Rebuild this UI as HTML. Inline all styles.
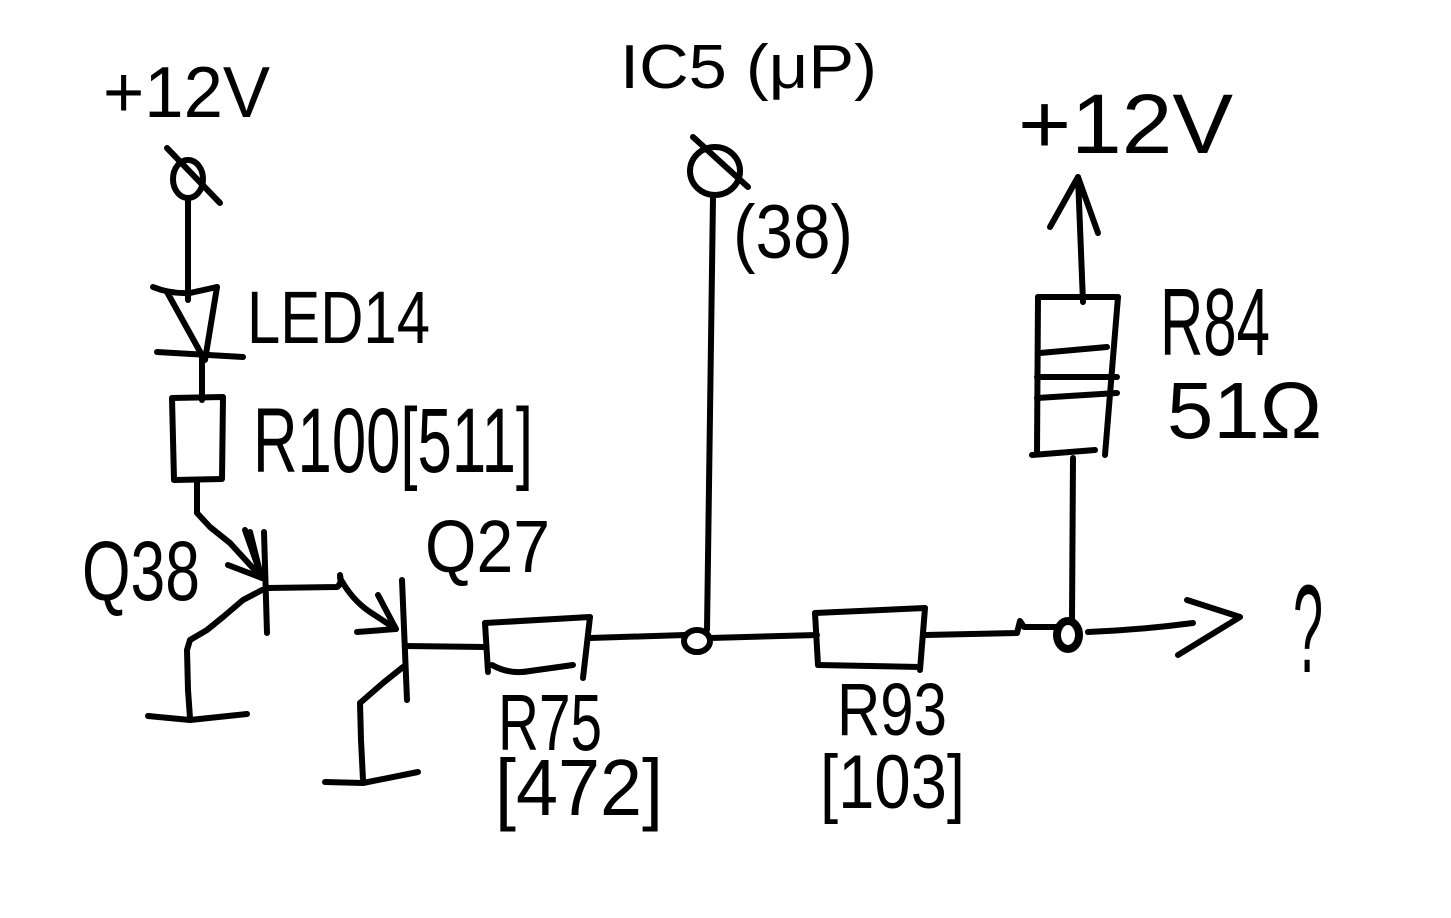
<!DOCTYPE html>
<html>
<head>
<meta charset="utf-8">
<style>
  html, body { margin: 0; padding: 0; background: #ffffff; }
  body { width: 1451px; height: 918px; overflow: hidden; }
  svg { display: block; }
  text { font-family: "Liberation Sans", "DejaVu Sans", sans-serif; fill: #000; }
</style>
</head>
<body>
<svg width="1451" height="918" viewBox="0 0 1451 918" xmlns="http://www.w3.org/2000/svg">
  <rect x="0" y="0" width="1451" height="918" fill="#ffffff"/>

  <g fill="none" stroke="#000" stroke-width="6" stroke-linecap="round" stroke-linejoin="round">
    <!-- Left +12V terminal -->
    <ellipse cx="188" cy="179" rx="15" ry="19"/>
    <path d="M167,148 L220,203"/>
    <path d="M188,198 L188,300"/>

    <!-- LED14 -->
    <path d="M153,287 Q170,294 190,293 L217,287"/>
    <path d="M167,292 L203,357"/>
    <path d="M217,287 L205,360"/>
    <path d="M157,352 L243,357"/>
    <path d="M202,357 L202,400"/>

    <!-- R100 -->
    <path d="M172,398 L223,397 L222,479 L174,480 Z"/>
    <path d="M197,480 L197,513 L210,527 L230,543 L262,578"/>
    <!-- Q38 emitter arrow -->
    <path d="M228,565 L262,578 L245,530"/>
    <path d="M250,532 L260,572"/>

    <!-- Q38 bar -->
    <path d="M264,532 L267,633"/>
    <!-- Q38 collector to ground -->
    <path d="M262,590 L243,600 L223,617 L207,630 L190,640 L187,650 L188,690 L190,718"/>
    <path d="M148,716 L190,720 L247,714"/>

    <!-- Q38 -> Q27 -->
    <path d="M267,588 L337,587 Q342,584 340,575"/>
    <path d="M340,578 Q352,600 370,612 L396,629"/>
    <path d="M357,632 L396,629 L378,595"/>

    <!-- Q27 bar -->
    <path d="M402,580 L407,700"/>
    <!-- Q27 collector to ground -->
    <path d="M403,667 L383,683 L360,703 L361,740 L363,780"/>
    <path d="M325,782 L363,783 L418,772"/>

    <!-- Q27 to R75 -->
    <path d="M405,646 L485,647"/>

    <!-- R75 -->
    <path d="M485,623 L590,617"/>
    <path d="M485,623 L488,672"/>
    <path d="M590,617 L583,678"/>
    <path d="M492,665 Q510,675 530,671 L573,665"/>
    <path d="M590,638 L685,635"/>

    <!-- Node 1 -->
    <ellipse cx="697" cy="641" rx="13" ry="11"/>
    <path d="M710,638 L817,635"/>

    <!-- IC5 pin -->
    <ellipse cx="715" cy="171" rx="25" ry="24"/>
    <path d="M693,137 L748,187"/>
    <path d="M713,197 L707,630"/>

    <!-- R93 -->
    <path d="M815,613 L925,608"/>
    <path d="M815,613 L818,665"/>
    <path d="M818,665 L920,667"/>
    <path d="M925,608 L920,670"/>
    <path d="M925,635 L1017,633 L1020,621 L1024,627 L1056,627"/>

    <!-- Node 2 -->
    <ellipse cx="1068" cy="635" rx="11" ry="14" stroke-width="8"/>
    <path d="M1072,620 L1073,458"/>

    <!-- R84 -->
    <path d="M1038,297 L1118,297"/>
    <path d="M1038,297 L1037,452"/>
    <path d="M1118,297 L1105,455"/>
    <path d="M1040,353 L1107,347"/>
    <path d="M1037,377 L1117,377"/>
    <path d="M1037,398 L1117,393"/>
    <path d="M1032,455 L1095,450"/>

    <!-- Arrow up to +12V -->
    <path d="M1083,302 L1078,177"/>
    <path d="M1050,227 L1078,177 L1098,233"/>

    <!-- Output arrow -->
    <path d="M1088,632 Q1140,630 1193,623"/>
    <path d="M1187,600 L1240,617 L1178,655"/>
  </g>

  <!-- Labels -->
  <text x="103" y="117" font-size="72" textLength="167" lengthAdjust="spacingAndGlyphs">+12V</text>
  <text x="620" y="88" font-size="62" textLength="257" lengthAdjust="spacingAndGlyphs">IC5 (μP)</text>
  <text x="733" y="258" font-size="76" textLength="120" lengthAdjust="spacingAndGlyphs">(38)</text>
  <text x="1018" y="153" font-size="84" textLength="215" lengthAdjust="spacingAndGlyphs">+12V</text>
  <text x="247" y="343" font-size="74" textLength="183" lengthAdjust="spacingAndGlyphs">LED14</text>
  <text x="253" y="472" font-size="92" textLength="280" lengthAdjust="spacingAndGlyphs">R100[511]</text>
  <text x="1160" y="355" font-size="96" textLength="110" lengthAdjust="spacingAndGlyphs">R84</text>
  <text x="1167" y="438" font-size="80" textLength="155" lengthAdjust="spacingAndGlyphs">51Ω</text>
  <text x="82" y="600" font-size="84" textLength="118" lengthAdjust="spacingAndGlyphs">Q38</text>
  <text x="425" y="572" font-size="74" textLength="125" lengthAdjust="spacingAndGlyphs">Q27</text>
  <text x="498" y="750" font-size="80" textLength="104" lengthAdjust="spacingAndGlyphs">R75</text>
  <text x="495" y="815" font-size="80" textLength="168" lengthAdjust="spacingAndGlyphs">[472]</text>
  <text x="837" y="735" font-size="74" textLength="110" lengthAdjust="spacingAndGlyphs">R93</text>
  <text x="820" y="808" font-size="76" textLength="145" lengthAdjust="spacingAndGlyphs">[103]</text>
  <text x="1293" y="672" font-size="125" textLength="30" lengthAdjust="spacingAndGlyphs">?</text>
</svg>
</body>
</html>
